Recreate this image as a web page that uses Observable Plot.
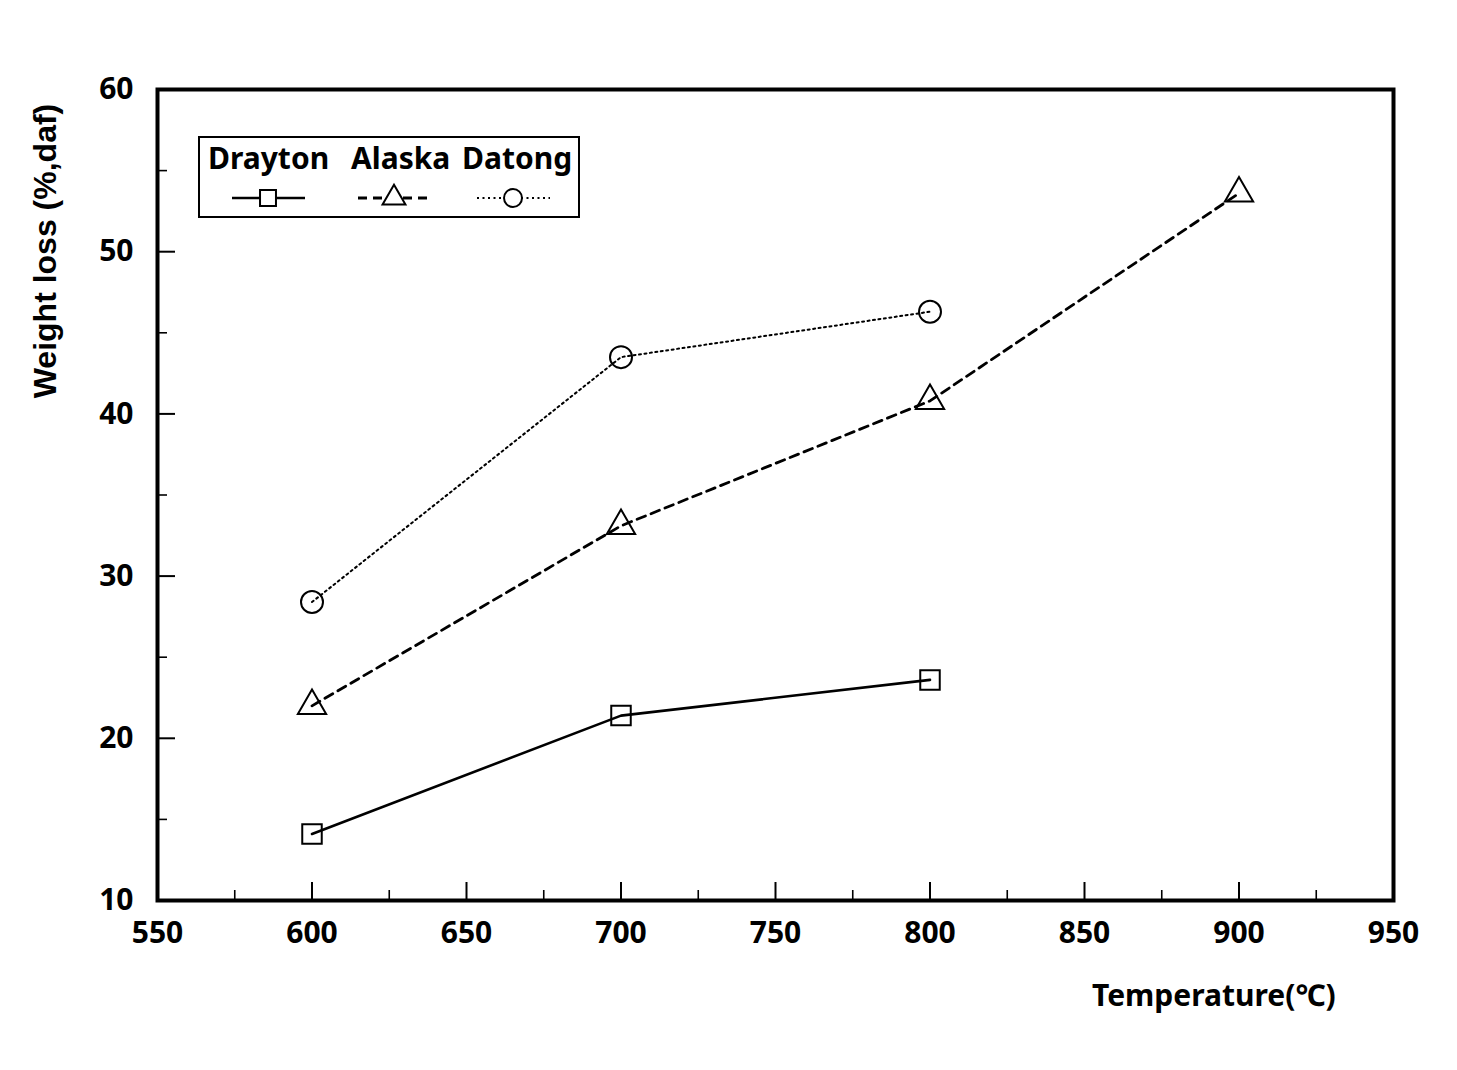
<!DOCTYPE html>
<html><head><meta charset="utf-8">
<script src="https://cdn.jsdelivr.net/npm/d3@7"></script>
<script src="https://cdn.jsdelivr.net/npm/@observablehq/plot@0.6"></script>
<style>
body{margin:0;background:#fff;}
#wrap{position:relative;width:1457px;height:1070px;background:#fff;}
.lab{position:absolute;font-family:"Noto Sans","Noto Sans CJK KR",sans-serif;font-weight:bold;color:#000;white-space:nowrap;}
#ylab{font-family:"Liberation Sans",Arial,sans-serif;font-size:32px;left:45px;top:251px;transform:translate(-50%,-50%) rotate(-90deg);}
#xlab{font-size:30px;left:1092px;top:974px;}
#legend{position:absolute;left:0;top:0;}
</style></head><body><div id="wrap"></div>
<script>
const series = ["Drayton", "Alaska", "Datong"];
const temperatures = [600, 700, 800, 900];
const drayton = [14.1, 21.4, 23.6];
const alaska = [22.0, 33.1, 40.8, 53.6];
const datong = [28.4, 43.5, 46.3];
const xTicks = [550, 600, 650, 700, 750, 800, 850, 900, 950];
const xMinor = [575, 625, 675, 725, 775, 825, 875, 925];
const yTicks = [10, 20, 30, 40, 50, 60];
const yMinor = [15, 25, 35, 45, 55];
const xLabel = "Temperature(℃)";
const yLabel = "Weight loss (%,daf)";

const W = 1457, H = 1070, mL = 157, mR = 64, mT = 89, mB = 170;
const plotW = W - mL - mR, plotH = H - mT - mB;
const values = [drayton, alaska, datong];
const symbols = ["square", "triangle", "circle"];
const dashes = [null, "9,6", "2,3.5"];
const widths = [2.6, 2.8, 2];
const radii = [11, 10.5, 11];
const rows = [];
values.forEach((vals, i) => vals.forEach((v, j) => rows.push({s: series[i], t: temperatures[j], v})));

const marks = [];
series.forEach((s, i) => {
  const d = rows.filter(r => r.s === s);
  marks.push(Plot.line(d, {x: "t", y: "v", stroke: "black", strokeWidth: widths[i], strokeDasharray: dashes[i]}));
  marks.push(Plot.dot(d, {x: "t", y: "v", symbol: () => symbols[i], r: radii[i], stroke: "black", strokeWidth: 2, fill: "none"}));
});

const chart = Plot.plot({
  width: W, height: H,
  marginLeft: mL, marginRight: mR, marginTop: mT, marginBottom: mB,
  style: {fontFamily: "'Noto Sans', sans-serif", background: "white", color: "black"},
  x: {domain: [550, 950]},
  y: {domain: [10, 60]},
  marks: [
    Plot.ruleX(xTicks.slice(1, -1), {x: d => d, stroke: "black", strokeWidth: 2, insetTop: plotH - 18}),
    Plot.ruleX(xMinor, {x: d => d, stroke: "black", strokeWidth: 1.6, insetTop: plotH - 10}),
    Plot.ruleY(yTicks.slice(1, -1), {y: d => d, stroke: "black", strokeWidth: 2, insetRight: plotW - 18}),
    Plot.ruleY(yMinor, {y: d => d, stroke: "black", strokeWidth: 1.6, insetRight: plotW - 10}),
    ...marks,
    Plot.frame({stroke: "black", strokeWidth: 4}),
    Plot.axisX({ticks: xTicks, tickSize: 0, tickPadding: 21, fontSize: 30, fontWeight: "bold", label: null, tickFormat: d => String(d)}),
    Plot.axisY({ticks: yTicks, tickSize: 0, tickPadding: 24, fontSize: 30, fontWeight: "bold", label: null, tickFormat: d => String(d)})
  ]
});
const wrap = document.getElementById("wrap");
wrap.appendChild(chart);

const yl = document.createElement("div"); yl.className = "lab"; yl.id = "ylab"; yl.textContent = yLabel; wrap.appendChild(yl);
const xl = document.createElement("div"); xl.className = "lab"; xl.id = "xlab"; xl.textContent = xLabel; wrap.appendChild(xl);

// legend
const lg = d3.select(wrap).append("svg").attr("id", "legend").attr("width", W).attr("height", 260);
lg.append("rect").attr("x", 199).attr("y", 137).attr("width", 380).attr("height", 80).attr("fill", "white").attr("stroke", "black").attr("stroke-width", 2);
const lx = [208, 351, 462];
const cx = [268, 394, 513];
series.forEach((s, i) => {
  lg.append("text").attr("x", lx[i]).attr("y", 169).text(s)
    .attr("font-family", "'Noto Sans', sans-serif").attr("font-weight", "bold").attr("font-size", 30);
  lg.append("line").attr("x1", cx[i] - 36).attr("x2", cx[i] + 37).attr("y1", 198).attr("y2", 198)
    .attr("stroke", "black").attr("stroke-width", widths[i]).attr("stroke-dasharray", dashes[i]);
  const sym = d3.symbol().type([d3.symbolSquare, d3.symbolTriangle, d3.symbolCircle][i]).size(Math.PI * (radii[i] - 2) ** 2);
  lg.append("path").attr("d", sym()).attr("transform", `translate(${cx[i]},198)`)
    .attr("fill", "white").attr("stroke", "black").attr("stroke-width", 2);
});
</script></body></html>
